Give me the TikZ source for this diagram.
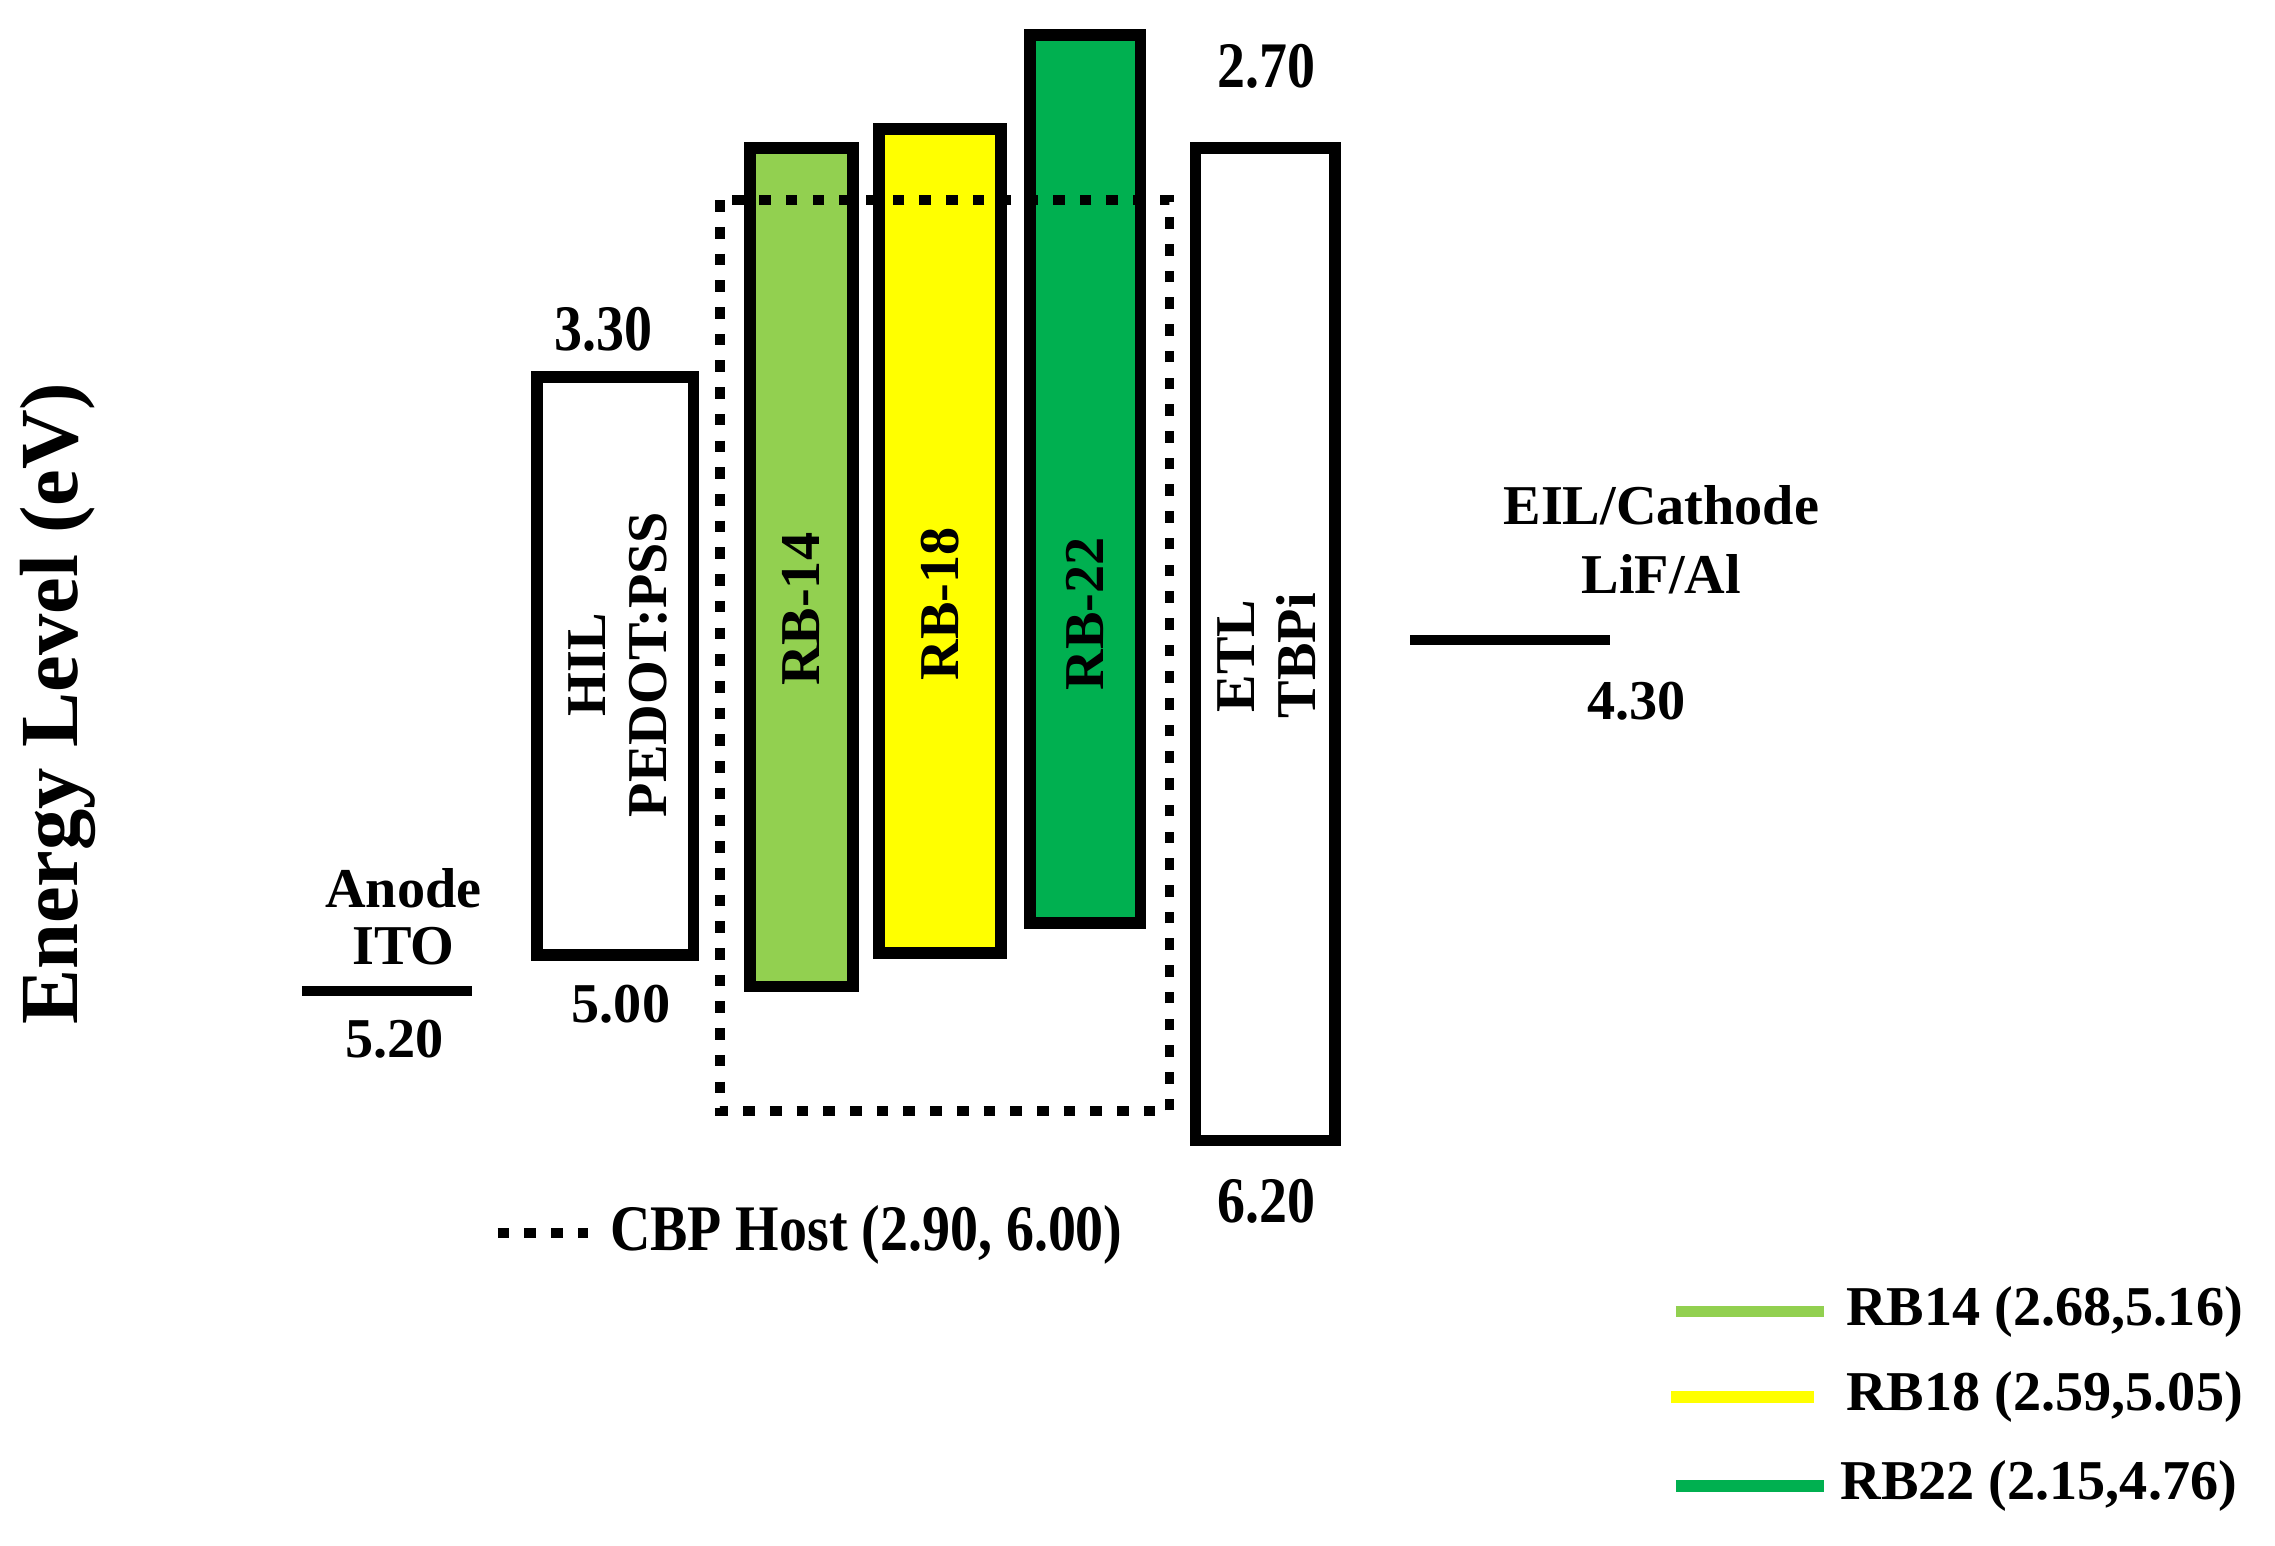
\documentclass[tikz,border=0pt]{standalone}
\usepackage{fontspec}
\setmainfont{Liberation Serif}
\newfontfamily\condfont{Liberation Serif}[FakeStretch=0.86]
\definecolor{lgreen}{HTML}{92D050}
\definecolor{ylw}{HTML}{FFFF00}
\definecolor{dgreen}{HTML}{00B050}
\begin{document}
\begin{tikzpicture}[x=0.014509cm,y=-0.014509cm,
  lvlbox/.style={draw=black,line width=3.3pt},
  lvlline/.style={line width=3pt},
  hostline/.style={line width=2.8pt,dash pattern=on 3.3pt off 4.3pt},
  lbl/.style={font=\bfseries\fontsize{16}{18}\selectfont,inner sep=0pt},
  clbl/.style={font=\condfont\bfseries\fontsize{18.5}{20}\selectfont,inner sep=0pt},
  vlbl/.style={font=\bfseries\fontsize{16}{17.5}\selectfont,rotate=90,align=center,inner sep=0pt},
  leg/.style={line width=3.3pt}]
\useasboundingbox (0,0) rectangle (1568,1065);
% axis label
\node[font=\bfseries\fontsize{23.5}{25}\selectfont,rotate=90,inner sep=0pt] (ylab) at (40,485) {Energy Level (eV)};
% anode
\coordinate (an1) at (208,683); \coordinate (an2) at (325,683);
\draw[lvlline] (an1) -- (an2);
\node[lbl] (anode) at (278,612) {Anode};
\node[lbl] (ito) at (278,652) {ITO};
\node[lbl] (v520) at (272,716) {5.20};
% HIL
\draw[lvlbox,fill=white] (370,260) rectangle (478,658);
\node[vlbl] (hil) at (426,458) {HIL\\PEDOT:PSS};
\node[clbl] (v330) at (416,227) {3.30};
\node[lbl] (v500) at (428,692) {5.00};
% emitters
\draw[lvlbox,fill=lgreen] (517,102) rectangle (588,680);
\node[vlbl] (rb14) at (552,420) {RB-14};
\draw[lvlbox,fill=ylw] (606,89) rectangle (690,657);
\node[vlbl] (rb18) at (648,416) {RB-18};
\draw[lvlbox,fill=dgreen] (710,24) rectangle (786,636);
\node[vlbl] (rb22) at (748,423) {RB-22};
% ETL
\draw[lvlbox,fill=white] (824,102) rectangle (920,786);
\node[vlbl] (etl) at (873,452) {ETL\\TBPi};
\node[clbl] (v270) at (873,46) {2.70};
\node[clbl] (v620) at (873,828) {6.20};
% host dotted box
\draw[hostline] (496,138) rectangle (806,766);
% cathode
\coordinate (ca1) at (972,441); \coordinate (ca2) at (1110,441);
\draw[lvlline] (ca1) -- (ca2);
\node[lbl] (eil) at (1145,348) {EIL/Cathode};
\node[lbl] (lif) at (1145,396) {LiF/Al};
\node[lbl] (v430) at (1128,483) {4.30};
% host legend
\coordinate (h1) at (343,850); \coordinate (h2) at (405,850);
\draw[hostline] (h1) -- (h2);
\node[clbl,anchor=west] (cbp) at (420,851) {CBP Host (2.90, 6.00)};
% legend
\coordinate (l1a) at (1155,904); \coordinate (l1b) at (1257,904);
\draw[leg,lgreen] (l1a) -- (l1b);
\node[lbl,anchor=west] (t14) at (1272,904) {RB14 (2.68,5.16)};
\coordinate (l2a) at (1152,963); \coordinate (l2b) at (1250,963);
\draw[leg,ylw] (l2a) -- (l2b);
\node[lbl,anchor=west] (t18) at (1272,963) {RB18 (2.59,5.05)};
\coordinate (l3a) at (1155,1024); \coordinate (l3b) at (1257,1024);
\draw[leg,dgreen] (l3a) -- (l3b);
\node[lbl,anchor=west] (t22) at (1268,1024) {RB22 (2.15,4.76)};
\end{tikzpicture}
\end{document}
